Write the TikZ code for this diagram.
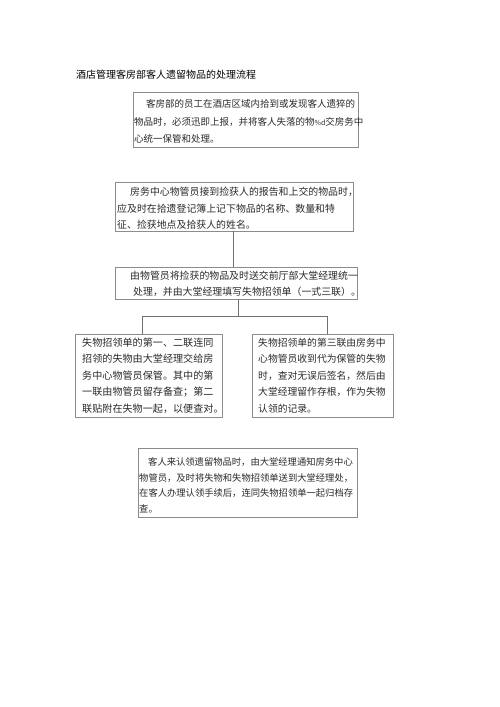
\documentclass[tikz,border=0pt]{standalone}
\usepackage{fontspec}
\newfontfamily\cjk{Noto Sans CJK SC}
\newcommand{\fsz}[2]{\fontsize{#1}{#2}\selectfont}
\definecolor{boxline}{HTML}{8C8C8C}
\definecolor{connline}{HTML}{707070}
\definecolor{txt}{HTML}{2A2A2A}
\begin{document}
\begin{tikzpicture}[x=1pt,y=-1pt,
  box/.style={draw=boxline,line width=0.8pt,inner sep=0pt,fill=none},
  body/.style={anchor=base west,inner sep=0pt,align=left,text=txt},
  conn/.style={draw=connline,line width=0.9pt}]
\useasboundingbox[fill=white] (0,0) rectangle (500,707);

\node[anchor=base west,inner sep=0pt,text=black,font=\cjk\fsz{10}{12}] (title) at (76,78.5) {酒店管理客房部客人遗留物品的处理流程};

% boxes
\node[box,minimum width=225,minimum height=55] (b1) at (245.5,120) {};
\node[box,minimum width=238,minimum height=49] (b2) at (234,206.5) {};
\node[box,minimum width=242,minimum height=32] (b3) at (236,283) {};
\node[box,minimum width=147,minimum height=83] (bl) at (148.5,375.5) {};
\node[box,minimum width=141,minimum height=83] (br) at (322.5,375.5) {};
\node[box,minimum width=219,minimum height=69] (b6) at (247.5,482.5) {};

% texts (anchored at the baseline of their last line)
\node[body,font=\cjk\fsz{9.5}{17.5}] (t1) at (134,142.5) {\hspace{12pt}客房部的员工在酒店区域内拾到或发现客人遗猝的\\物品时，必须迅即上报，并将客人失落的物{\fsz{7}{8}\%d}交房务中\\心统一保管和处理。};
\node[body,font=\cjk\fsz{9.9}{16.5}] (t2) at (117,228.5) {\hspace{13pt}房务中心物管员接到捡获人的报告和上交的物品时，\\应及时在拾遗登记簿上记下物品的名称、数量和特\\征、捡获地点及拾获人的姓名。};
\node[body,font=\cjk\fsz{9.9}{16.5}] (t3) at (130,295.5) {由物管员将捡获的物品及时送交前厅部大堂经理统一\\\hspace{3pt}处理，并由大堂经理填写失物招领单（一式三联）。};
\node[body,font=\cjk\fsz{10.1}{16.4}] (tl) at (82,412) {失物招领单的第一、二联连同\\招领的失物由大堂经理交给房\\务中心物管员保管。其中的第\\一联由物管员留存备查；第二\\联贴附在失物一起，以便查对。};
\node[body,font=\cjk\fsz{9.8}{16.4}] (tr) at (258,412) {失物招领单的第三联由房务中\\心物管员收到代为保管的失物\\时，查对无误后签名，然后由\\大堂经理留作存根，作为失物\\认领的记录。};
\node[body,font=\cjk\fsz{9.3}{15.7}] (t6) at (139,512.5) {\hspace{9pt}客人来认领遗留物品时，由大堂经理通知房务中心\\物管员，及时将失物和失物招领单送到大堂经理处，\\在客人办理认领手续后，连同失物招领单一起归档存\\查。};

% connectors
\coordinate (k2) at (233,0);
\coordinate (fork) at (238,316);
\coordinate (jl) at (142,316);
\coordinate (jr) at (327,316);
\draw[conn] (b2.south -| k2) -- (b3.north -| k2);
\draw[conn] (b3.south -| fork) -- (fork);
\draw[conn] (bl.north -| jl) -- (jl) -- (jr) -- (br.north -| jr);
\end{tikzpicture}
\end{document}
